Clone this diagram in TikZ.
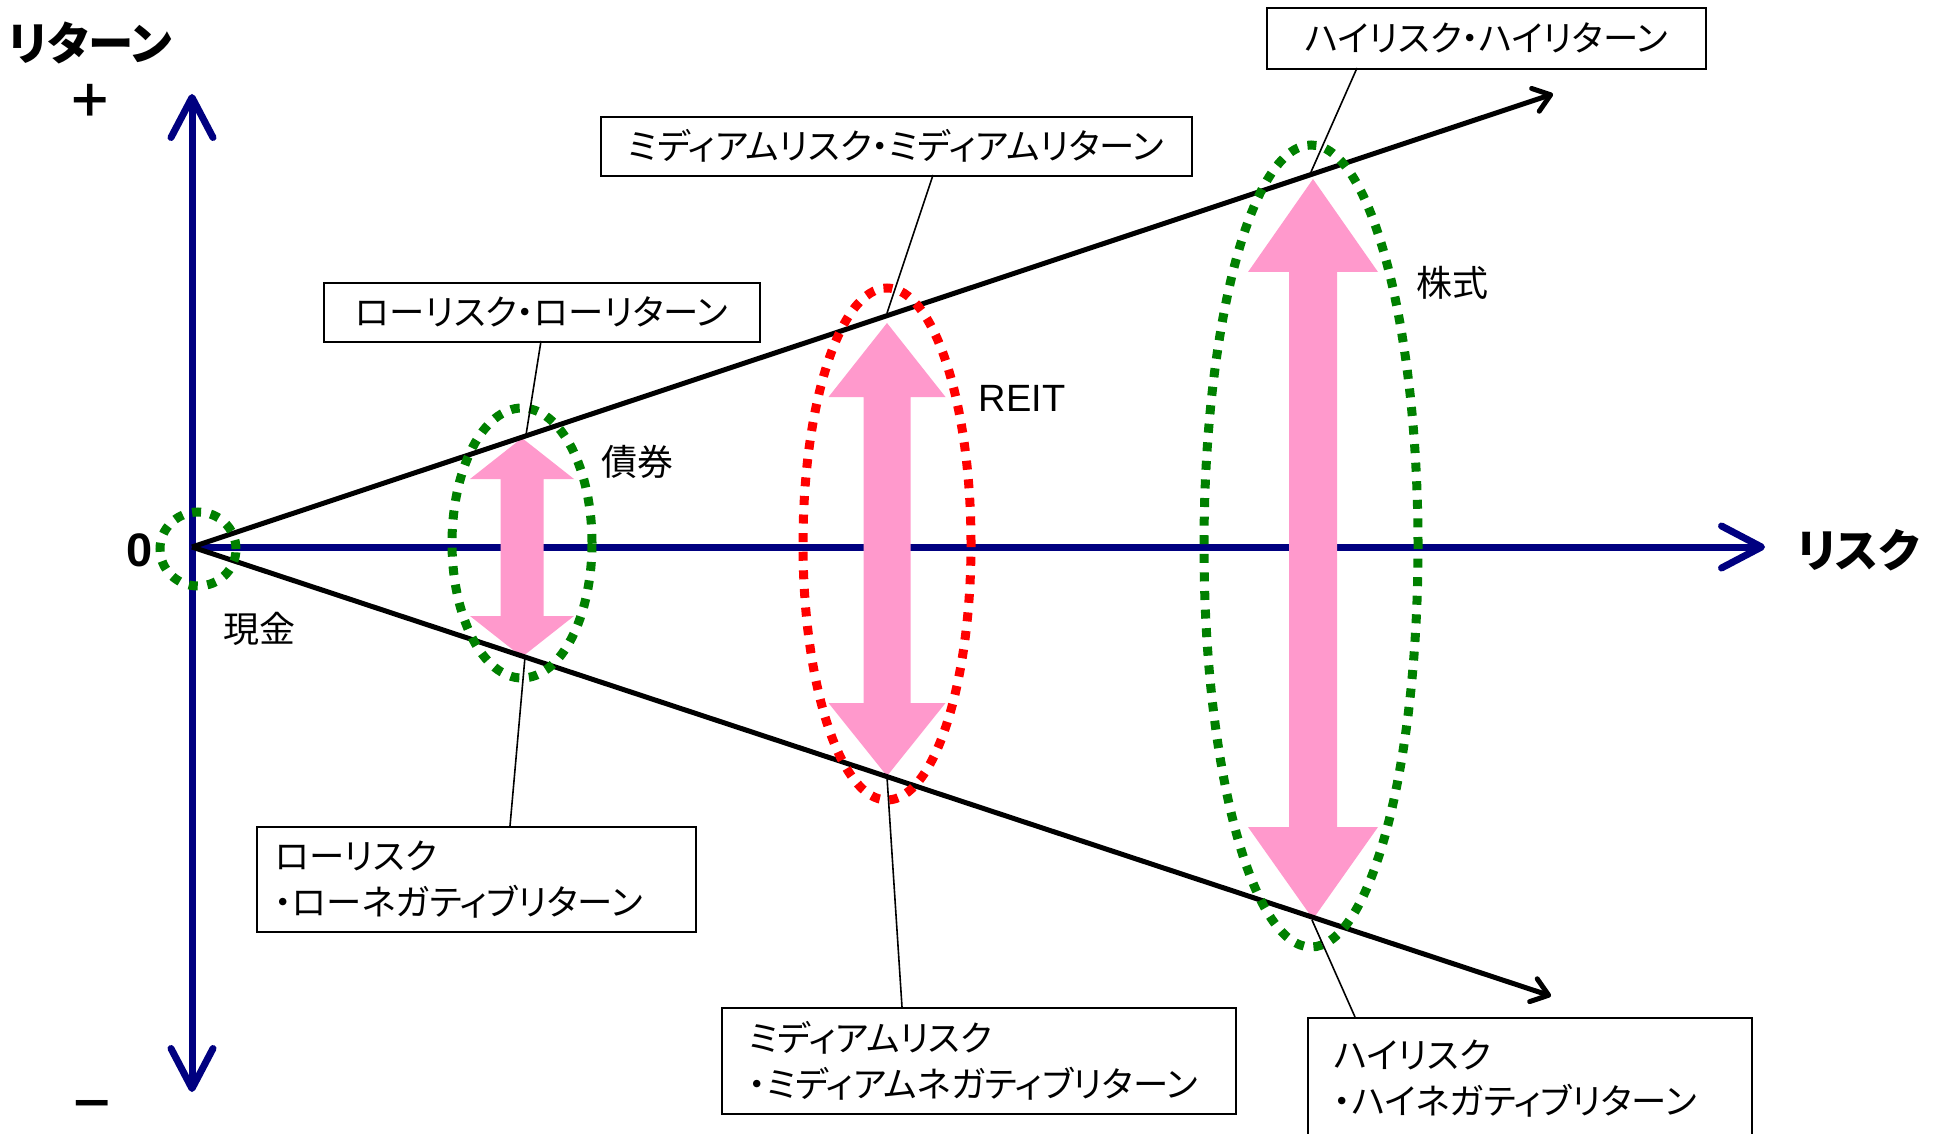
\documentclass[tikz,border=0pt]{standalone}
\usepackage{fontspec}
\setmainfont{Liberation Sans}
\newfontfamily\jp[RawFeature=+palt]{Noto Sans CJK JP}
\usetikzlibrary{arrows.meta}
\definecolor{axisnavy}{RGB}{0,0,128}
\definecolor{dotgreen}{RGB}{0,128,0}
\definecolor{dotred}{RGB}{255,0,0}
\definecolor{pinkfill}{RGB}{255,153,204}
\newcommand\dblarrow[7]{%
  \fill[pinkfill] (#1,#2) -- ({#1+#6},#3) -- ({#1+#7},#3) -- ({#1+#7},#4) -- ({#1+#6},#4) -- (#1,#5)
    -- ({#1-#6},#4) -- ({#1-#7},#4) -- ({#1-#7},#3) -- ({#1-#6},#3) -- cycle;}
\tikzset{axistip/.tip={Straight Barb[length=20pt,width=21pt,round]}}
\begin{document}
\begin{tikzpicture}[x=0.5pt,y=-0.5pt,
  axisline/.style={draw=axisnavy,line width=3.5pt},
  ray/.style={draw=black,line width=2.5pt,-{Straight Barb[length=8pt,width=12pt,round]}},
  dotsgreen/.style={draw=dotgreen,line width=4.5pt,dash pattern=on 4.5pt off 4.8pt},
  dotsred/.style={draw=dotred,line width=4.5pt,dash pattern=on 4.5pt off 4.8pt},
  box/.style={draw=black,line width=0.8pt,fill=white,inner sep=0pt,anchor=north west,
    font=\jp\fontsize{17.7pt}{23pt}\selectfont},
  twobox/.style={box,align=left},
  leader/.style={draw=black,line width=0.8pt},
  lbl/.style={font=\jp\fontsize{18pt}{22pt}\selectfont,inner sep=0pt},
  axislbl/.style={font=\jp\bfseries\fontsize{22.7pt}{27pt}\selectfont,inner sep=0pt}
]
\useasboundingbox (0,0) rectangle (1933,1134);
\fill[white] (0,0) rectangle (1933,1134);

% axes
\coordinate (O) at (192,547);
\coordinate (Ytop) at (192,94);
\coordinate (Ybot) at (192,1092);
\coordinate (Xend) at (1765,547);
\coordinate (Rup) at (1553,94);
\coordinate (Rdn) at (1551,996);
\draw[axisline,axistip-axistip] (Ybot) -- (Ytop);
\draw[axisline,-axistip] (O) -- (Xend);

% pink double arrows
\dblarrow{522}{438}{479}{616}{657}{52}{21.5}
\dblarrow{887}{323}{397}{703}{776}{58.5}{23.5}
\dblarrow{1313}{179}{272}{827}{919}{65}{24}

% rays
\draw[ray] (O) -- (Rup);
\draw[ray] (O) -- (Rdn);

% dotted ellipses
\draw[dotsgreen] (198,549) ellipse [x radius=19pt, y radius=18.5pt];
\draw[dotsgreen] (522,543) ellipse [x radius=35pt, y radius=67.5pt];
\draw[dotsred] (887,544) ellipse [x radius=42pt, y radius=128pt];
\draw[dotsgreen] (1311,546) ellipse [x radius=53.5pt, y radius=200.5pt];

% boxes
\node[box,minimum width=218pt,minimum height=29.5pt] (b1) at (323,282) {ローリスク・ローリターン};
\node[box,minimum width=295.5pt,minimum height=29.5pt] (b2) at (600,116) {ミディアムリスク・ミディアムリターン};
\node[box,minimum width=219.5pt,minimum height=30.5pt] (b3) at (1266,7) {ハイリスク・ハイリターン};
\node[twobox,minimum height=52.5pt,text width=201.5pt,inner xsep=9pt] (b4) at (256,826) {ローリスク\\・ローネガティブリターン};
\node[twobox,minimum height=53pt,text width=230pt,inner xsep=13.5pt] (b5) at (721,1007) {ミディアムリスク\\・ミディアムネガティブリターン};
\node[twobox,minimum height=61pt,text width=196pt,inner xsep=13pt] (b6) at (1307,1017) {ハイリスク\\・ハイネガティブリターン};

% leader lines
\coordinate (s1) at (541,341);  \coordinate (t1) at (526,435);
\coordinate (s2) at (933,175);  \coordinate (t2) at (887,313);
\coordinate (s3) at (1357,68);  \coordinate (t3) at (1311,172);
\coordinate (s4) at (510,826);  \coordinate (t4) at (525,657);
\coordinate (s5) at (902,1007); \coordinate (t5) at (887,777);
\coordinate (s6) at (1355,1017);\coordinate (t6) at (1312,920);
\draw[leader] (s1) -- (t1);
\draw[leader] (s2) -- (t2);
\draw[leader] (s3) -- (t3);
\draw[leader] (s4) -- (t4);
\draw[leader] (s5) -- (t5);
\draw[leader] (s6) -- (t6);

% labels
\node[axislbl] (ret) at (90,43) {リターン};
\node[axislbl] (plus) at (90,101) {＋};
\node[axislbl] (minus) at (92,1110) {－};
\node[font=\bfseries\fontsize{23.5pt}{27pt}\selectfont,inner sep=0pt] (zero) at (140,550) {0};
\node[axislbl] (risk) at (1858,550) {リスク};
\node[lbl] (cash) at (259,629) {現金};
\node[lbl] (bond) at (637,462) {債券};
\node[font=\fontsize{19pt}{22pt}\selectfont,inner sep=0pt] (reit) at (1022,398) {REIT};
\node[lbl] (stock) at (1452,283) {株式};
\end{tikzpicture}
\end{document}
